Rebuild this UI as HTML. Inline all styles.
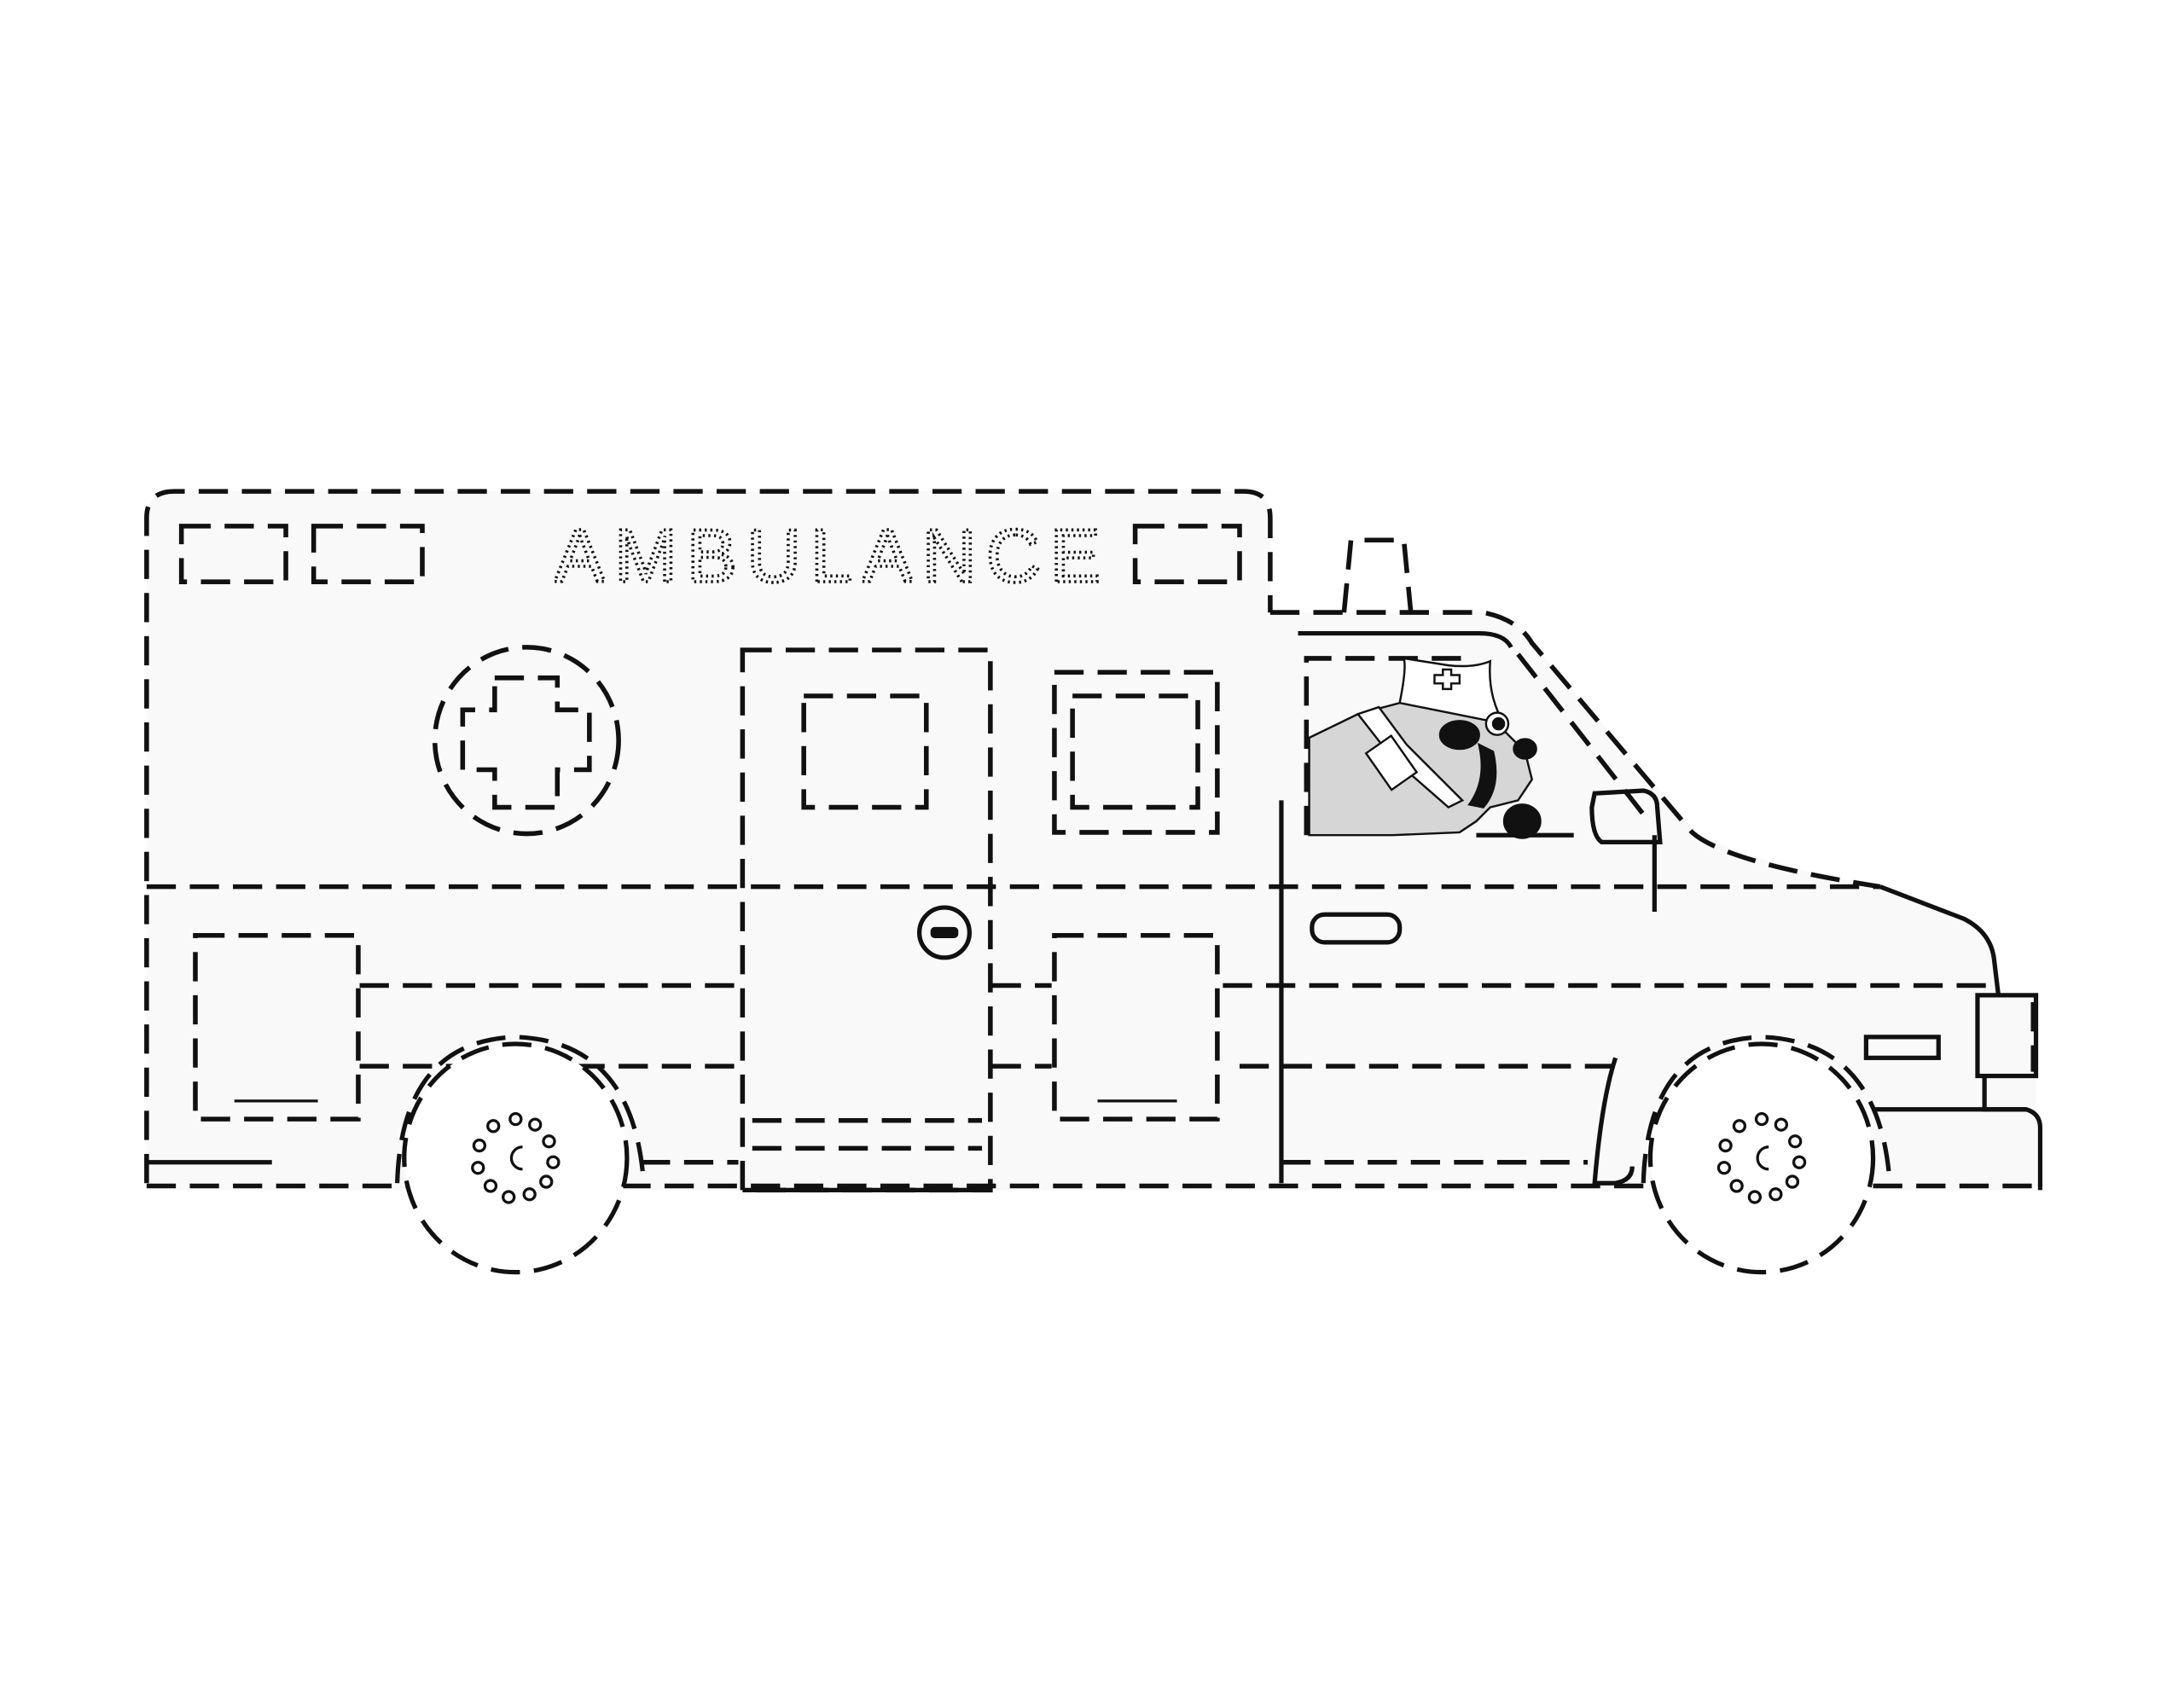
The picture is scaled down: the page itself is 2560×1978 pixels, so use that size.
<!DOCTYPE html>
<html><head><meta charset="utf-8"><style>
html,body{margin:0;padding:0;background:#fff;}
svg{display:block;}
</style></head><body>
<svg width="2560" height="1978" viewBox="0 0 1568 1212" xmlns="http://www.w3.org/2000/svg">
<rect width="1568" height="1212" fill="#fff"/>
<path d="M105,852 L105,372 Q105,353 125,353 L893,353 Q912,353 912,372 L912,440 L1065,440 Q1090,445 1100,462 L1220,600 Q1260,620 1350,637 L1410,660 Q1432,675 1435,715 L1462,715 L1462,855 L105,855 Z" fill="#f9f9f9"/>
<g fill="none" stroke="#111" stroke-width="3.4" stroke-dasharray="21 10">
<path d="M105,850 L105,372 Q105,353 125,353 L893,353 Q912,353 912,372 L912,440"/>
<path d="M912,440 L1065,440 Q1090,445 1100,462 L1215,598 Q1240,620 1350,637"/>
<path d="M1090,470 L1180,585"/>
<rect x="130" y="378" width="75" height="40"/>
<rect x="225" y="378" width="78" height="40"/>
<rect x="815" y="378" width="75" height="40"/>
<path d="M965,440 L970,388 L1008,388 L1013,440"/>
<line x1="105" y1="852" x2="1465" y2="852"/>
<line x1="105" y1="637" x2="1350" y2="637"/>
<line x1="258" y1="708" x2="530" y2="708"/>
<line x1="712" y1="708" x2="755" y2="708"/>
<line x1="878" y1="708" x2="1435" y2="708"/>
<line x1="258" y1="766" x2="530" y2="766"/>
<line x1="712" y1="766" x2="755" y2="766"/>
<line x1="890" y1="766" x2="1160" y2="766"/>
<line x1="460" y1="835" x2="530" y2="835"/>
<line x1="920" y1="835" x2="1140" y2="835"/>
<rect x="140" y="672" width="117" height="132"/>
<rect x="757" y="672" width="117" height="132"/>
<rect x="533" y="467" width="178" height="388"/>
<rect x="577" y="500" width="88" height="80"/>
<line x1="540" y1="805" x2="705" y2="805"/>
<line x1="540" y1="825" x2="705" y2="825"/>
<rect x="757" y="483" width="117" height="115"/>
<rect x="770" y="500" width="90" height="80"/>
<ellipse cx="378" cy="532" rx="66" ry="67"/>
<path d="M355,487 L400,487 L400,510 L423,510 L423,553 L400,553 L400,580 L355,580 L355,553 L332,553 L332,510 L355,510 Z"/>
<path d="M938,600 L938,473 L1050,473"/>
<line x1="1460" y1="720" x2="1460" y2="770"/>
</g>
<g fill="none" stroke="#111" stroke-width="3.2">
<path d="M1350,637 L1410,660 Q1430,670 1432,690 L1435,715"/>
<rect x="1420" y="715" width="42" height="58"/>
<path d="M1425,773 L1425,797 L1455,797 Q1465,800 1465,810 L1465,855"/>
<rect x="1340" y="745" width="52" height="15"/>
<line x1="920" y1="575" x2="920" y2="850"/>
<line x1="1188" y1="600" x2="1188" y2="655"/>
<path d="M1145,570 L1180,568 Q1190,570 1190,580 L1192,605 L1150,605 Q1143,600 1143,580 Z"/>
<rect x="942" y="657" width="63" height="20" rx="9"/>
<path d="M932,455 L1062,455 Q1080,455 1085,465"/>
<line x1="105" y1="835" x2="195" y2="835"/>
<path d="M1160,760 Q1150,790 1145,850 L1160,850 Q1172,848 1172,838"/>
<line x1="533" y1="855" x2="711" y2="855"/>
<path d="M1345,797 L1455,797"/>
<circle cx="678" cy="670" r="18"/>
<line x1="1060" y1="600" x2="1130" y2="600"/>
</g>
<rect x="668" y="666" width="20" height="8" rx="3" fill="#111"/>
<line x1="168" y1="791" x2="228" y2="791" stroke="#111" stroke-width="2"/>
<line x1="788" y1="791" x2="845" y2="791" stroke="#111" stroke-width="2"/>
<!-- wheels -->
<g stroke="#111" stroke-width="3.2" stroke-dasharray="21 10">
<ellipse cx="370" cy="832" rx="80" ry="82" fill="#fff"/>
<ellipse cx="1265" cy="832" rx="80" ry="82" fill="#fff"/>
<path d="M285,850 Q288,748 370,745 Q455,748 462,850" fill="none"/>
<path d="M1180,850 Q1183,748 1265,745 Q1350,748 1357,850" fill="none"/>
</g>
<g fill="#fff" stroke="#111" stroke-width="2">
<g transform="translate(370,832)">
<circle cx="0" cy="-28" r="4"/><circle cx="14" cy="-24" r="4"/><circle cx="24" cy="-12" r="4"/><circle cx="27" cy="3" r="4"/><circle cx="22" cy="17" r="4"/><circle cx="10" cy="26" r="4"/><circle cx="-5" cy="28" r="4"/><circle cx="-18" cy="20" r="4"/><circle cx="-27" cy="7" r="4"/><circle cx="-26" cy="-9" r="4"/><circle cx="-16" cy="-23" r="4"/>
<path d="M5,-8 A8,8 0 1 0 5,8" fill="none"/>
</g>
<g transform="translate(1265,832)">
<circle cx="0" cy="-28" r="4"/><circle cx="14" cy="-24" r="4"/><circle cx="24" cy="-12" r="4"/><circle cx="27" cy="3" r="4"/><circle cx="22" cy="17" r="4"/><circle cx="10" cy="26" r="4"/><circle cx="-5" cy="28" r="4"/><circle cx="-18" cy="20" r="4"/><circle cx="-27" cy="7" r="4"/><circle cx="-26" cy="-9" r="4"/><circle cx="-16" cy="-23" r="4"/>
<path d="M5,-8 A8,8 0 1 0 5,8" fill="none"/>
</g>
</g>
<!-- driver dog -->
<g stroke="#111" stroke-width="1.5">
<path d="M940,530 L975,513 L1005,505 L1040,505 L1075,520 L1095,540 L1100,560 L1090,575 L1070,580 L1060,590 L1048,598 L1000,600 L940,600 Z" fill="#d6d6d6"/>
<path d="M1005,505 Q1010,480 1008,473 L1040,478 Q1058,480 1070,475 Q1068,500 1080,520 L1040,512 Z" fill="#fff"/>
<path d="M1030,485 h6 v-4 h6 v4 h6 v6 h-6 v4 h-6 v-4 h-6 z" fill="#fff"/>
<ellipse cx="1048" cy="528" rx="14" ry="10" fill="#111"/>
<path d="M1072,540 Q1078,565 1065,580 L1055,578 Q1068,560 1062,535 Z" fill="#111"/>
<circle cx="1075" cy="520" r="8" fill="#fff"/><circle cx="1076" cy="520" r="4" fill="#111"/>
<ellipse cx="1095" cy="538" rx="8" ry="7" fill="#111"/>
<path d="M975,513 L1000,545 L1040,580 L1050,575 L1010,535 L990,508 Z" fill="#fff"/>
<rect x="988" y="532" width="22" height="32" fill="#fff" transform="rotate(-35 999 548)"/>
<ellipse cx="1093" cy="590" rx="13" ry="12" fill="#111"/>
</g>
<text x="398" y="418" font-family="Liberation Sans, sans-serif" font-size="54" fill="none" stroke="#111" stroke-width="2.2" stroke-dasharray="1.5 2.5" textLength="392" lengthAdjust="spacing">AMBULANCE</text>
</svg>
</body></html>
